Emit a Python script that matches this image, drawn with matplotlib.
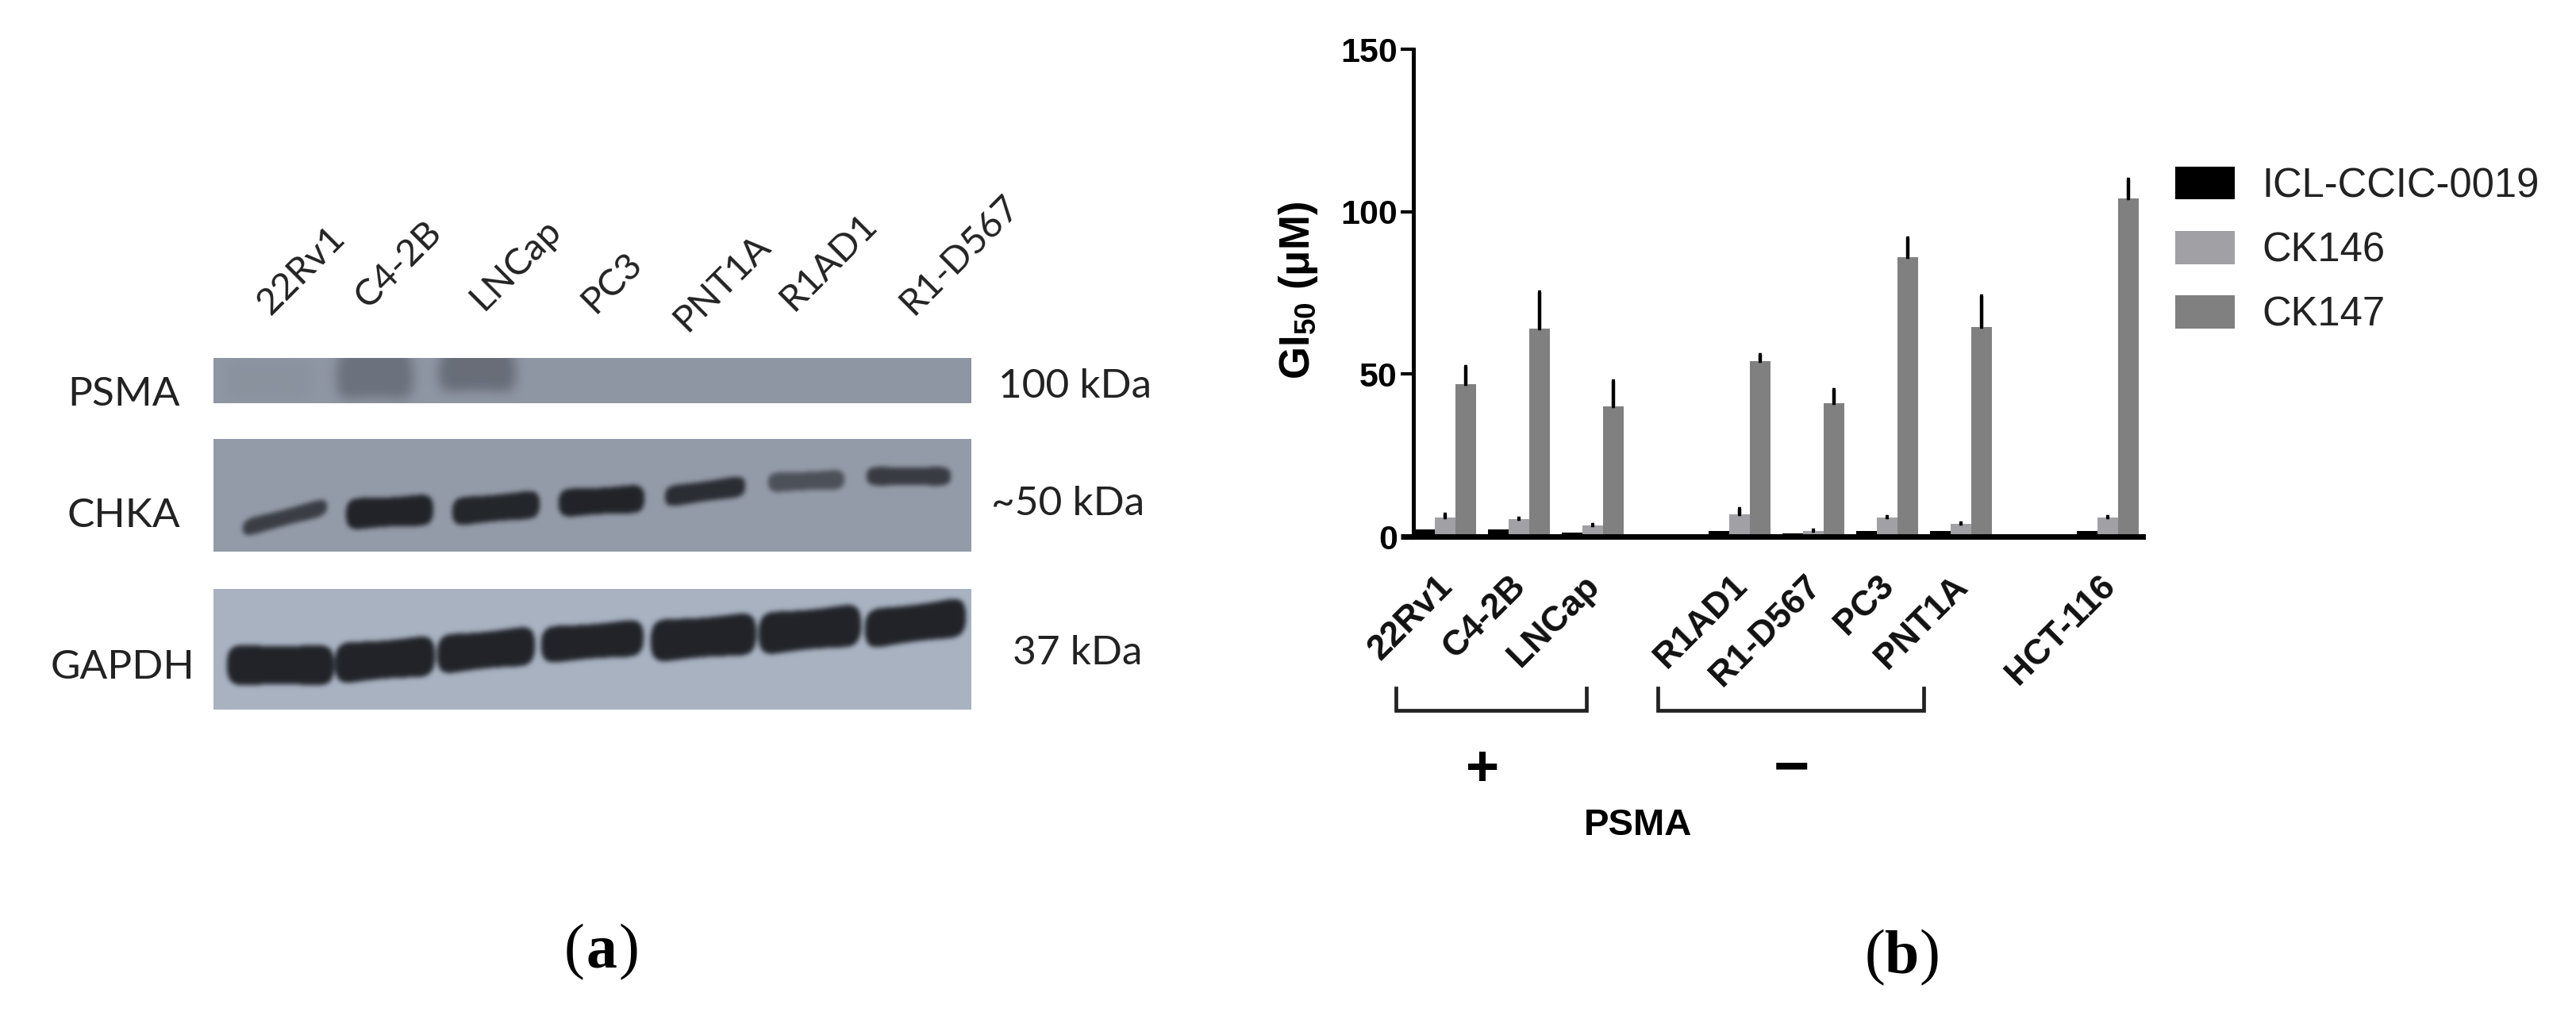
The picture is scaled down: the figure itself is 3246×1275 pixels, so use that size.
import matplotlib
matplotlib.use('Agg')
import matplotlib.pyplot as plt
import matplotlib.transforms as mtrans
import numpy as np

W, H = 3246, 1275

# panel b data
cells = ['22Rv1', 'C4-2B', 'LNCap', 'R1AD1', 'R1-D567', 'PC3', 'PNT1A', 'HCT-116']
group_pos = [0, 1, 2, 4, 5, 6, 7, 9]
icl = [2.2, 2.2, 1.2, 1.7, 1.0, 1.7, 1.7, 1.7]
ck146 = [5.9, 5.4, 3.4, 6.9, 1.7, 5.9, 3.8, 5.9]
ck146_err = [1.0, 0.3, 0.3, 1.7, 0.2, 0.3, 0.3, 0.3]
ck147 = [46.9, 63.9, 40.1, 54.1, 41.1, 85.9, 64.4, 104.1]
ck147_err = [5.3, 11.4, 7.7, 1.8, 4.0, 6.0, 9.7, 5.9]
yticks = [0, 50, 100, 150]

# panel a: lane edges, band centres and heights in pixels of the picture
lane_names = ['22Rv1', 'C4-2B', 'LNCap', 'PC3', 'PNT1A', 'R1AD1', 'R1-D567']
lane_x = [380, 502, 650, 771, 910, 1044, 1210]
lane_y = [341, 333, 333, 356, 356, 330, 321]

psma_x0 = [285, 424, 553]
psma_x1 = [392, 521, 650]
psma_yc = [479, 475, 470]
psma_h = [50, 56, 48]
psma_dark = [0.04, 0.34, 0.38]
psma_tilt = [0, 0, 0]

chka_x0 = [306, 436, 570, 704, 838, 968, 1092]
chka_x1 = [412, 546, 680, 812, 939, 1064, 1198]
chka_yc = [652, 645, 640, 631, 619, 606, 600]
chka_h = [22, 40, 36, 36, 27, 25, 24]
chka_dark = [0.78, 1.0, 0.98, 1.0, 0.92, 0.62, 0.80]
chka_tilt = [-14, -3, -5, -3, -7, -2, 0]

gapdh_x0 = [286, 422, 551, 682, 820, 956, 1090]
gapdh_x1 = [421, 548, 674, 811, 953, 1085, 1217]
gapdh_yc = [838, 831, 819, 808, 803, 793, 785]
gapdh_h = [52, 52, 50, 47, 54, 54, 50]
gapdh_dark = [1.0] * 7
gapdh_tilt = [0, -5, -6, -5, -5, -6, -8]

plt.rcParams['font.family'] = ['Liberation Sans', 'DejaVu Sans']
plt.rcParams['mathtext.fontset'] = 'custom'
plt.rcParams['mathtext.rm'] = 'Liberation Sans:bold'
plt.rcParams['mathtext.bf'] = 'Liberation Sans:bold'
plt.rcParams['mathtext.it'] = 'Liberation Sans:bold'

fig = plt.figure(figsize=(W / 100, H / 100), dpi=100, facecolor='white')

# full size overlay in picture pixels for the blot and the loose annotations
ov = fig.add_axes([0, 0, 1, 1])
ov.axis('off')


def soften(arr, sigma):
    k = np.exp(-0.5 * (np.arange(-3 * sigma, 3 * sigma + 1) / sigma) ** 2)
    k = k / k.sum()
    pad = len(k) // 2
    arr = np.pad(arr, pad, mode='edge')
    arr = np.apply_along_axis(lambda r: np.convolve(r, k, mode='same'), 0, arr)
    arr = np.apply_along_axis(lambda r: np.convolve(r, k, mode='same'), 1, arr)
    return arr[pad:-pad, pad:-pad]


def draw_blot(top, bottom, bg, band_col, x0, x1, yc, h, dark, tilt, sigma):
    left, right = 269, 1224
    xx, yy = np.meshgrid(np.arange(left, right) + 0.5, np.arange(top, bottom) + 0.5)
    mask = np.zeros(xx.shape)
    for a, b, c, t, d, s in zip(x0, x1, yc, h, dark, tilt):
        u = np.clip((xx - a) / (b - a), 0, 1)
        cy = c + s * (u - 0.5) * 2
        # rounded ends with a slight flare just before them
        edge = np.abs(2 * u - 1)
        half = t / 2 * (0.92 + 0.16 * edge ** 2) * (1 - edge ** 8) ** 0.4
        inside = (np.abs(yy - cy) < half) & (xx > a) & (xx < b)
        mask = np.maximum(mask, inside * d)
    mask = soften(mask, sigma)
    rgb = np.zeros(xx.shape + (3,))
    for i in range(3):
        rgb[..., i] = bg[i] + (band_col[i] - bg[i]) * mask
    ov.imshow(rgb, extent=(left, right, bottom, top), aspect='auto',
              interpolation='bilinear')


draw_blot(451, 508, (0.56, 0.59, 0.64), (0.16, 0.17, 0.20),
          psma_x0, psma_x1, psma_yc, psma_h, psma_dark, psma_tilt, 7)
draw_blot(553, 695, (0.58, 0.61, 0.66), (0.13, 0.14, 0.16),
          chka_x0, chka_x1, chka_yc, chka_h, chka_dark, chka_tilt, 3)
draw_blot(742, 894, (0.66, 0.70, 0.76), (0.13, 0.14, 0.16),
          gapdh_x0, gapdh_x1, gapdh_yc, gapdh_h, gapdh_dark, gapdh_tilt, 3)

ov.set_xlim(0, W)
ov.set_ylim(H, 0)

for name, lx, ly in zip(lane_names, lane_x, lane_y):
    ov.text(lx, ly, name, family='Lato', fontsize=34, color='#222222', rotation=45,
            ha='center', va='center', rotation_mode='anchor')
for name, ly, lx in zip(['PSMA', 'CHKA', 'GAPDH'], [497, 650, 841], [156, 156, 155]):
    ov.text(lx, ly, name, family='Lato', fontsize=37, color='#222222', ha='center', va='center')
for name, ly, lx in zip(['100 kDa', '~50 kDa', '37 kDa'], [487, 635, 823], [1355, 1346, 1358]):
    ov.text(lx, ly, name, family='Lato', fontsize=37, color='#222222', ha='center', va='center')

# panel b
ax = fig.add_axes([1781 / W, 1 - 676 / H, (2700 - 1781) / W, (676 - 62) / H])
ax.patch.set_alpha(0)
x = np.array(group_pos, dtype=float)
w = 0.28
err_style = dict(ecolor='black', elinewidth=3.2, capsize=1.5, capthick=3.2)
ax.bar(x - w, icl, w, color='black', label='ICL-CCIC-0019')
ax.bar(x, ck146, w, color='#a0a0a5', label='CK146',
       yerr=[np.zeros(len(x)), ck146_err], error_kw=err_style)
ax.bar(x + w, ck147, w, color='#808080', label='CK147',
       yerr=[np.zeros(len(x)), ck147_err], error_kw=err_style)

ax.set_xlim(-0.43, 9.47)
ax.set_ylim(0, 150)
ax.set_yticks(yticks)
ax.set_xticks(x)
ax.set_xticklabels(cells, rotation=45, ha='right', rotation_mode='anchor',
                   fontsize=32, fontweight='bold', color='#111111')
ax.tick_params(axis='x', length=0, pad=30)
shift = mtrans.ScaledTranslation(-0.12, 0, fig.dpi_scale_trans)
for lab in ax.get_xticklabels():
    lab.set_transform(lab.get_transform() + shift)
ax.tick_params(axis='y', length=11.5, width=3, labelsize=31, pad=3)
for lab in ax.get_yticklabels():
    lab.set_fontweight('bold')
ax.yaxis.get_major_ticks()[0].tick1line.set_markeredgewidth(5)
for s in ['top', 'right']:
    ax.spines[s].set_visible(False)
ax.spines['left'].set_linewidth(3.6)
ax.spines['bottom'].set_linewidth(5)

ax.legend(loc='upper left', bbox_to_anchor=(2741 / W, 1 - 210 / H),
          bbox_transform=fig.transFigure, frameon=False, fontsize=36.5,
          borderaxespad=0, borderpad=0, handlelength=1.48, handleheight=0.88,
          handletextpad=0.68, labelspacing=0.63, labelcolor='#222222')

ov.text(1636, 366, r'GI$_{\mathbf{50}}$ ($\mathbf{\mu}$M)', fontsize=38, fontweight='bold',
        rotation=90, ha='center', va='center')

# PSMA brackets
for a, b in [(1759, 1999), (2089, 2424)]:
    ov.plot([a, a, b, b], [867, 895, 895, 867], color='#222222', lw=3.4, solid_joinstyle='miter')
ov.text(1868, 964, '+', fontsize=52, fontweight='bold', ha='center', va='center_baseline')
ov.text(2257, 962, '\u2212', fontsize=56, fontweight='bold', ha='center', va='center_baseline')
ov.text(2064, 1040, 'PSMA', fontsize=34, fontweight='bold', ha='center', va='center')

# panel letters, serif with the letter in bold
for letter, cx, cy in [('a', 758, 1200), ('b', 2397, 1207)]:
    ov.text(cx - 34, cy, '(', family='Liberation Serif', fontsize=56, ha='center', va='center')
    ov.text(cx, cy, letter, family='Liberation Serif', fontsize=56, fontweight='bold', ha='center', va='center')
    ov.text(cx + 34, cy, ')', family='Liberation Serif', fontsize=56, ha='center', va='center')

ov.set_xlim(0, W)
ov.set_ylim(H, 0)
fig.savefig('out.png', dpi=100)
